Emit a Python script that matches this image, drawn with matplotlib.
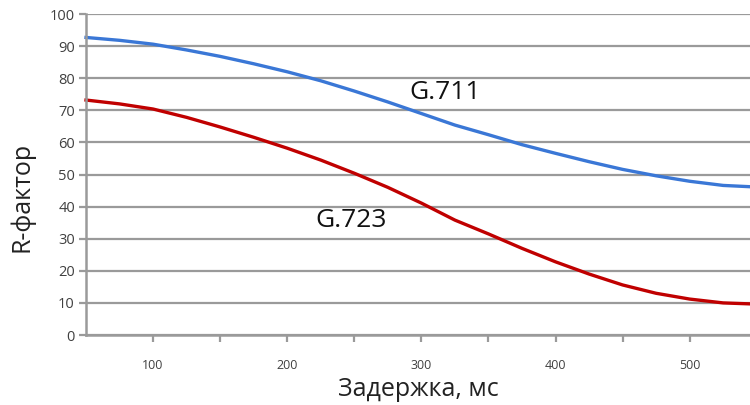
import numpy as np
import matplotlib.pyplot as plt

plt.rcParams['font.family'] = ['Open Sans', 'DejaVu Sans']

# delay, ms
delay = [50, 75, 100, 125, 150, 175, 200, 225, 250, 275, 300, 325, 350,
         375, 400, 425, 450, 475, 500, 525, 545]
# R-factor for G.711
r_g711 = [92.7, 91.8, 90.6, 88.8, 86.8, 84.5, 82.0, 79.2, 76.0, 72.6, 69.0,
          65.4, 62.4, 59.3, 56.6, 54.0, 51.6, 49.6, 47.9, 46.6, 46.2]
# R-factor for G.723
r_g723 = [73.2, 72.0, 70.4, 67.8, 64.8, 61.6, 58.2, 54.5, 50.4, 46.0, 41.1,
          35.8, 31.5, 27.0, 22.8, 19.0, 15.6, 13.0, 11.2, 10.0, 9.7]

fig = plt.figure(figsize=(7.5, 4.05), dpi=100)
ax = fig.add_axes([0.1147, 0.1728, 0.8853, 0.7926])

grid_c = '#9a9a9a'
ax.set_xlim(50, 545)
ax.set_ylim(0, 100)
ax.set_yticks(np.arange(0, 101, 10))
ax.set_xticks(np.arange(100, 546, 50))
ax.set_xticklabels([str(v) if v % 100 == 0 else '' for v in np.arange(100, 546, 50)])
ax.grid(axis='y', color=grid_c, linewidth=1.6)
ax.set_axisbelow(True)
for s in ['top', 'right']:
    ax.spines[s].set_visible(False)
for s in ['left', 'bottom']:
    ax.spines[s].set_color(grid_c)
    ax.spines[s].set_linewidth(1.8)
ax.tick_params(axis='y', colors=grid_c, length=5, width=1.6, labelcolor='#404040',
               labelsize=10.5, pad=3)
ax.tick_params(axis='x', colors=grid_c, length=5, width=1.6, labelcolor='#404040',
               labelsize=9, pad=12)

ax.plot(delay, r_g711, color='#3a77d6', linewidth=2.4, clip_on=False)
ax.plot(delay, r_g723, color='#c00000', linewidth=2.4, clip_on=False)

ax.text(291, 75.4, 'G.711', fontsize=19, va='center', color='#111111')
ax.text(221, 35.8, 'G.723', fontsize=19, va='center', color='#111111')

ax.set_xlabel('Задержка, мс', fontsize=18, color='#222222', labelpad=4)
ax.set_ylabel('R-фактор', fontsize=18, color='#222222')
ax.yaxis.set_label_coords(-0.078, 0.43)

fig.savefig('out.png', dpi=100)
